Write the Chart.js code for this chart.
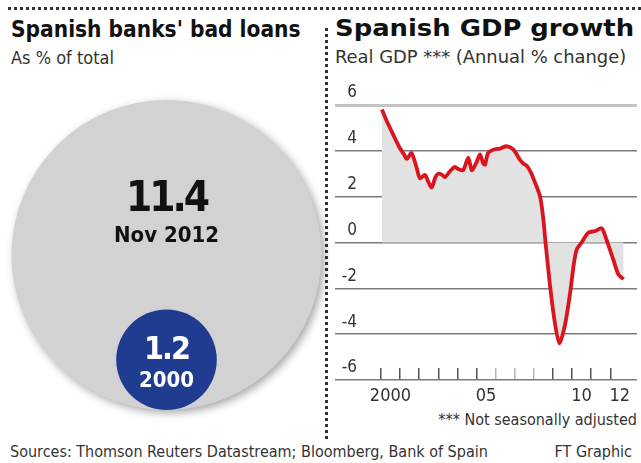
<!DOCTYPE html>
<html>
<head>
<meta charset="utf-8">
<script src="https://cdn.jsdelivr.net/npm/chart.js@4.4.1/dist/chart.umd.min.js"></script>
<style>
body { margin:0; background:#fff; width:641px; height:463px; overflow:hidden; position:relative;
  font-family:'DejaVu Sans Condensed','Liberation Sans Narrow',Arial,sans-serif; color:#111; }
.dotsH { position:absolute; left:8px; top:7px; width:633px; height:3px;
  background-image:repeating-linear-gradient(90deg,#333 0 3px,transparent 3px 6px); }
.dotsV { position:absolute; left:325px; top:28px; width:3px; height:412px;
  background-image:repeating-linear-gradient(180deg,#333 0 3px,transparent 3px 6px); }
.title { position:absolute; top:16px; font-weight:bold; font-size:22.5px; white-space:nowrap; }
.sub { position:absolute; top:47px; font-size:18px; color:#333; white-space:nowrap; }
.wide { transform:scaleX(1.17); transform-origin:left top; }
.note { position:absolute; font-size:16px; color:#333; white-space:nowrap; }
canvas { position:absolute; }
</style>
</head>
<body>
<div class="dotsH"></div>
<div class="dotsV"></div>
<div class="title" style="left:11px">Spanish banks' bad loans</div>
<div class="sub" style="left:11px">As % of total</div>
<div class="title wide" style="left:335px; font-size:23px; top:15px; transform:scaleX(1.25)">Spanish GDP growth</div>
<div class="sub wide" style="left:335px; font-size:17px">Real GDP *** (Annual % change)</div>
<div class="note" style="right:4px; top:410px">*** Not seasonally adjusted</div>
<div class="note" style="left:10px; top:442px">Sources: Thomson Reuters Datastream; Bloomberg, Bank of Spain</div>
<div class="note" style="right:9px; top:442px">FT Graphic</div>

<canvas id="loans" width="325" height="362" style="left:4px; top:60px"></canvas>
<canvas id="gdp" width="311" height="335" style="left:330px; top:75px"></canvas>

<script>
// --- DATA ---
const loanLabels = ['Nov 2012', '2000'];
const loanValues = [11.4, 1.2];

const gdpDates = [2000.05, 2000.3, 2000.5, 2000.73, 2001.0, 2001.2, 2001.35, 2001.6, 2001.87, 2002.04,
  2002.3, 2002.45, 2002.65, 2002.85, 2003.0, 2003.2, 2003.35, 2003.6, 2003.87, 2004.05,
  2004.3, 2004.57, 2004.75, 2005.0, 2005.18, 2005.35, 2005.45, 2005.6, 2005.88, 2006.23,
  2006.58, 2006.93, 2007.28, 2007.45, 2007.63, 2007.85, 2008.0, 2008.33, 2008.5, 2008.6,
  2008.85, 2009.1, 2009.34, 2009.63, 2009.9, 2010.1, 2010.25, 2010.5, 2010.85, 2011.2,
  2011.55, 2011.8, 2012.16, 2012.43, 2012.7];
const gdpValues = [5.8, 5.3, 4.95, 4.55, 4.1, 3.85, 3.65, 3.9, 3.25, 2.8,
  2.95, 2.7, 2.4, 2.85, 3.0, 2.95, 2.85, 3.1, 3.3, 3.2,
  3.15, 3.7, 3.15, 3.5, 3.85, 3.45, 3.4, 3.9, 4.05, 4.1,
  4.2, 4.05, 3.6, 3.45, 3.35, 3.05, 2.75, 2.0, 1.0, 0.1,
  -1.9, -3.5, -4.4, -3.6, -2.2, -0.9, -0.3, 0.0, 0.43, 0.5,
  0.62, 0.13, -0.75, -1.4, -1.6];
const yTicks = [-6, -4, -2, 0, 2, 4, 6];
const yearTicks = [2000, 2001, 2002, 2003, 2004, 2005, 2006, 2007, 2008, 2009, 2010, 2011, 2012];
const yearLabels = { 2000: '2000', 2005: '05', 2010: '10', 2012: '12' };

const FONT = "'DejaVu Sans Condensed','Liberation Sans Narrow',Arial,sans-serif";
Chart.defaults.font.family = FONT;

// --- BUBBLES (area proportional to value, bottoms aligned) ---
const maxR = 155;
const radii = loanValues.map(v => maxR * Math.sqrt(v / Math.max(...loanValues)));

const bubbleText = {
  id: 'bubbleText',
  afterDatasetsDraw(chart) {
    const ctx = chart.ctx;
    const big = chart.getDatasetMeta(0).data[0];
    const small = chart.getDatasetMeta(1).data[0];
    ctx.save();
    ctx.textAlign = 'center';
    ctx.textBaseline = 'middle';
    ctx.fillStyle = '#111';
    ctx.letterSpacing = '-3px';
    ctx.font = 'bold 42px ' + FONT;
    ctx.fillText(loanValues[0].toFixed(1), big.x, big.y - 55);
    ctx.letterSpacing = '0px';
    ctx.font = 'bold 22px ' + FONT;
    ctx.fillText(loanLabels[0], big.x, big.y - 19);
    ctx.fillStyle = '#fff';
    ctx.letterSpacing = '-2px';
    ctx.font = 'bold 32px ' + FONT;
    ctx.fillText(loanValues[1].toFixed(1), small.x, small.y - 9);
    ctx.letterSpacing = '0px';
    ctx.font = 'bold 22px ' + FONT;
    ctx.fillText(loanLabels[1], small.x, small.y + 22);
    ctx.restore();
  }
};

const bubbleShadow = {
  id: 'bubbleShadow',
  beforeDatasetDraw(chart, args) {
    if (args.index !== 0) return;
    chart.ctx.save();
    chart.ctx.shadowColor = 'rgba(0,0,0,0.35)';
    chart.ctx.shadowBlur = 9;
    chart.ctx.shadowOffsetX = 3;
    chart.ctx.shadowOffsetY = 3;
  },
  afterDatasetDraw(chart, args) {
    if (args.index === 0) chart.ctx.restore();
  }
};

new Chart(document.getElementById('loans'), {
  type: 'bubble',
  data: {
    datasets: loanValues.map((v, i) => ({
      label: loanLabels[i],
      data: [{ x: 0, y: radii[i], r: radii[i] }],
      backgroundColor: i === 0 ? '#d2d2d2' : '#1f3c90',
      borderWidth: 0,
      order: loanValues.length - i,
      clip: false
    }))
  },
  options: {
    responsive: false,
    animation: false,
    layout: { autoPadding: false, padding: { bottom: 12 } },
    plugins: { legend: { display: false }, tooltip: { enabled: false } },
    scales: {
      x: { display: false, min: -1, max: 1 },
      y: { display: false, min: 0, max: 350 }
    }
  },
  plugins: [bubbleShadow, bubbleText]
});

// --- GDP LINE ---
new Chart(document.getElementById('gdp'), {
  type: 'line',
  data: {
    datasets: [{
      data: gdpDates.map((d, i) => ({ x: d, y: gdpValues[i] })),
      borderColor: '#d9161f',
      borderWidth: 3.8,
      pointRadius: 0,
      tension: 0.25,
      fill: { target: 'origin', above: '#e2e2e2', below: '#e2e2e2' }
    }]
  },
  options: {
    responsive: false,
    animation: false,
    layout: { padding: { top: 30, left: 5, right: 4, bottom: 0 } },
    plugins: { legend: { display: false }, tooltip: { enabled: false } },
    scales: {
      x: {
        type: 'linear', min: 1998.85, max: 2013.4,
        afterBuildTicks: s => { s.ticks = yearTicks.map(v => ({ value: v })); },
        afterFit: s => { s.height = 30; },
        border: { display: false },
        grid: {
          drawOnChartArea: false, drawTicks: true, tickLength: -12, lineWidth: 1.5,
          color: c => (c.tick && c.tick.value >= 2006 && c.tick.value <= 2008) ? '#b5b5b5' : '#555'
        },
        ticks: {
          autoSkip: false, maxRotation: 0, padding: 18, labelOffset: 9.5,
          callback: v => yearLabels[v] || '',
          font: { size: 18 }, color: '#333'
        }
      },
      y: {
        min: -6, max: 6,
        afterBuildTicks: s => { s.ticks = yTicks.map(v => ({ value: v })); },
        afterFit: s => { s.width = 24; },
        border: { display: false },
        grid: {
          tickLength: 24,
          color: c => c.tick && c.tick.value === 6 ? '#c4c4c4' : '#7a7a7a',
          lineWidth: c => c.tick && c.tick.value === 6 ? 3 : 1.5
        },
        ticks: {
          padding: -22, crossAlign: 'near', labelOffset: -12,
          callback: v => String(v),
          font: { size: 17 }, color: '#333'
        }
      }
    }
  }
});
</script>
</body>
</html>
